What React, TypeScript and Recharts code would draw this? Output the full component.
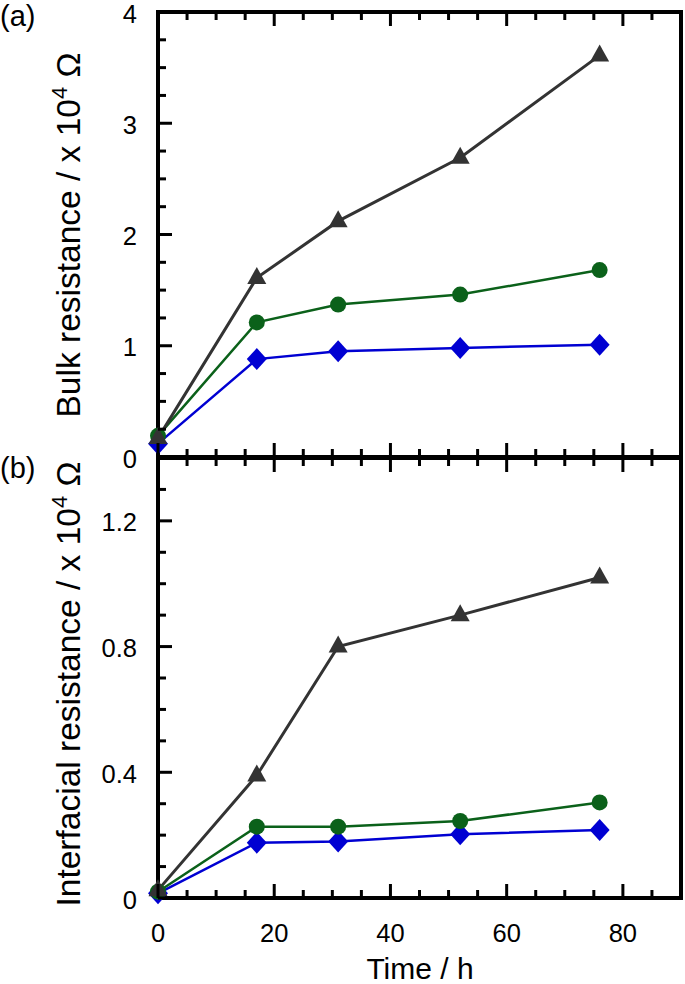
import React from 'react';
import { LineChart, Line, XAxis, YAxis, Label, ReferenceArea } from 'recharts';

// ---- data ----
const times = [0, 17, 31, 52, 76];
const bulkBlack = [0.17, 1.61, 2.12, 2.69, 3.61];
const bulkGreen = [0.19, 1.21, 1.37, 1.46, 1.68];
const bulkBlue = [0.12, 0.88, 0.95, 0.98, 1.01];
const intBlack = [0.025, 0.39, 0.8, 0.9, 1.02];
const intGreen = [0.02, 0.227, 0.227, 0.245, 0.304];
const intBlue = [0.015, 0.176, 0.18, 0.203, 0.216];

const xTicks = [0, 5, 10, 15, 20, 25, 30, 35, 40, 45, 50, 55, 60, 65, 70, 75, 80, 85, 90];
const xLabels = [0, 20, 40, 60, 80];
const bulkTicks = [0, 0.25, 0.5, 0.75, 1, 1.25, 1.5, 1.75, 2, 2.25, 2.5, 2.75, 3, 3.25, 3.5, 3.75, 4];
const bulkLabels = [0, 1, 2, 3, 4];
const intTicks = [0, 0.1, 0.2, 0.3, 0.4, 0.5, 0.6, 0.7, 0.8, 0.9, 1.0, 1.1, 1.2, 1.3, 1.4];
const intLabels = [0, 0.4, 0.8, 1.2];

const W = 685;
const H = 984;
const FONT = '"Liberation Sans", Arial, Helvetica, sans-serif';
const BLACK = '#333333';
const GREEN = '#0b611a';
const BLUE = '#0000d2';

const bulkData = times.map((t, i) => ({ t, k: bulkBlack[i], g: bulkGreen[i], b: bulkBlue[i] }));
const intData = times.map((t, i) => ({ t, k: intBlack[i], g: intGreen[i], b: intBlue[i] }));

const isIn = (v: number, arr: number[]) => arr.some((a) => Math.abs(a - v) < 1e-6);

const MAJ = 14;
const MIN = 8;
const TW = 3;
const TICK_FS = 25.5;
const TITLE_FS = 33.5;

const makeXTick = (dir: 1 | -1, labels: number[] | null) => (props: any) => {
  const { x, y, payload, index } = props;
  const v = payload.value;
  const major = isIn(v, xLabels);
  const len = major ? MAJ : MIN;
  return (
    <g key={`xt-${index}`}>
      <line x1={x} x2={x} y1={y} y2={y + dir * len} stroke="#000" strokeWidth={TW} />
      {labels && isIn(v, labels) ? (
        <text x={x} y={y + 44} textAnchor="middle" fontSize={TICK_FS} fontFamily={FONT} fill="#000">
          {String(v)}
        </text>
      ) : null}
    </g>
  );
};

const makeYTick = (dir: 1 | -1, labels: number[], showLabels: boolean) => (props: any) => {
  const { x, y, payload, index } = props;
  const v = payload.value;
  const major = isIn(v, labels);
  const len = major ? MAJ : MIN;
  return (
    <g key={`yt-${index}`}>
      <line x1={x} x2={x + dir * len} y1={y} y2={y} stroke="#000" strokeWidth={TW} />
      {showLabels && major ? (
        <text x={x - 21} y={y + 10.5} textAnchor="end" fontSize={TICK_FS} fontFamily={FONT} fill="#000">
          {String(v)}
        </text>
      ) : null}
    </g>
  );
};

const Triangle = ({ cx, cy }: any) =>
  cx == null ? null : (
    <polygon points={`${cx},${cy - 11} ${cx + 9.5},${cy + 6} ${cx - 9.5},${cy + 6}`} fill={BLACK} />
  );
const Diamond = ({ cx, cy }: any) =>
  cx == null ? null : (
    <polygon points={`${cx},${cy - 11} ${cx + 10},${cy} ${cx},${cy + 11} ${cx - 10},${cy}`} fill={BLUE} />
  );

const triDot = (p: any) => <Triangle key={`tri-${p.index}`} cx={p.cx} cy={p.cy} />;
const diaDot = (p: any) => <Diamond key={`dia-${p.index}`} cx={p.cx} cy={p.cy} />;

const VTitle = ({ x, y, text }: { x: number; y: number; text: string }) => (
  <text
    x={x}
    y={y}
    transform={`rotate(-90, ${x}, ${y})`}
    textAnchor="middle"
    fontSize={TITLE_FS}
    fontFamily={FONT}
    fill="#000"
  >
    {text}
    <tspan dy={-13} fontSize={22}>4</tspan>
    <tspan dy={13}> Ω</tspan>
  </text>
);

const Panel = ({
  data,
  top,
  bottom,
  yMax,
  yTicks,
  yLabels,
  showX,
  title,
  titleY,
  tag,
  tagY,
}: any) => (
  <div style={{ position: 'absolute', left: 0, top: 0 }}>
    <LineChart width={W} height={H} data={data} margin={{ top: top - 1, right: 3, bottom: H - bottom - 1, left: 0 }}>
      <XAxis
        xAxisId="bottom"
        dataKey="t"
        type="number"
        domain={[0, 90]}
        ticks={xTicks}
        interval={0}
        height={1}
        tickSize={0}
        tickMargin={0}
        tickLine={false}
        axisLine={false}
        tick={makeXTick(-1, showX ? xLabels : null)}
      >
        {showX ? (
          <Label
            content={() => (
              <text x={420} y={979} textAnchor="middle" fontSize={30} fontFamily={FONT} fill="#000">
                Time / h
              </text>
            )}
          />
        ) : null}
      </XAxis>
      <XAxis
        xAxisId="top"
        orientation="top"
        dataKey="t"
        type="number"
        domain={[0, 90]}
        ticks={xTicks}
        interval={0}
        height={1}
        tickSize={0}
        tickMargin={0}
        tickLine={false}
        axisLine={false}
        tick={makeXTick(1, null)}
      >
        <Label
          content={() => (
            <text x={0} y={tagY} fontSize={29} fontFamily={FONT} fill="#000">
              {tag}
            </text>
          )}
        />
      </XAxis>
      <YAxis
        yAxisId="left"
        type="number"
        domain={[0, yMax]}
        ticks={yTicks}
        interval={0}
        width={158}
        tickSize={0}
        tickMargin={0}
        tickLine={false}
        axisLine={false}
        tick={makeYTick(1, yLabels, true)}
      >
        <Label content={() => <VTitle x={80} y={titleY} text={title} />} />
      </YAxis>
      <YAxis
        yAxisId="right"
        orientation="right"
        type="number"
        domain={[0, yMax]}
        ticks={yTicks}
        interval={0}
        width={1}
        tickSize={0}
        tickMargin={0}
        tickLine={false}
        axisLine={false}
        tick={makeYTick(-1, yLabels, false)}
      />
      <ReferenceArea
        xAxisId="bottom"
        yAxisId="left"
        x1={0}
        x2={90}
        y1={0}
        y2={yMax}
        fill="none"
        fillOpacity={0}
        stroke="#000"
        strokeWidth={4}
        strokeOpacity={1}
        ifOverflow="visible"
      />
      <Line xAxisId="bottom" yAxisId="left" dataKey="b" stroke={BLUE} strokeWidth={2.5} dot={diaDot} activeDot={false} isAnimationActive={false} />
      <Line xAxisId="bottom" yAxisId="left" dataKey="g" stroke={GREEN} strokeWidth={2.5} dot={{ r: 8, fill: GREEN, stroke: GREEN, strokeWidth: 0 }} activeDot={false} isAnimationActive={false} />
      <Line xAxisId="bottom" yAxisId="left" dataKey="k" stroke={BLACK} strokeWidth={3} dot={triDot} activeDot={false} isAnimationActive={false} />
    </LineChart>
  </div>
);

export default function App() {
  return (
    <div style={{ position: 'absolute', left: 0, top: 0, width: W, height: H, background: '#fff' }}>
      <Panel
        data={bulkData}
        top={12}
        bottom={457}
        yMax={4}
        yTicks={bulkTicks}
        yLabels={bulkLabels}
        showX={false}
        title="Bulk resistance / x 10"
        titleY={235}
        tag="(a)"
        tagY={26}
      />
      <Panel
        data={intData}
        top={458}
        bottom={898}
        yMax={1.4}
        yTicks={intTicks}
        yLabels={intLabels}
        showX={true}
        title="Interfacial resistance / x 10"
        titleY={684}
        tag="(b)"
        tagY={478}
      />
    </div>
  );
}
